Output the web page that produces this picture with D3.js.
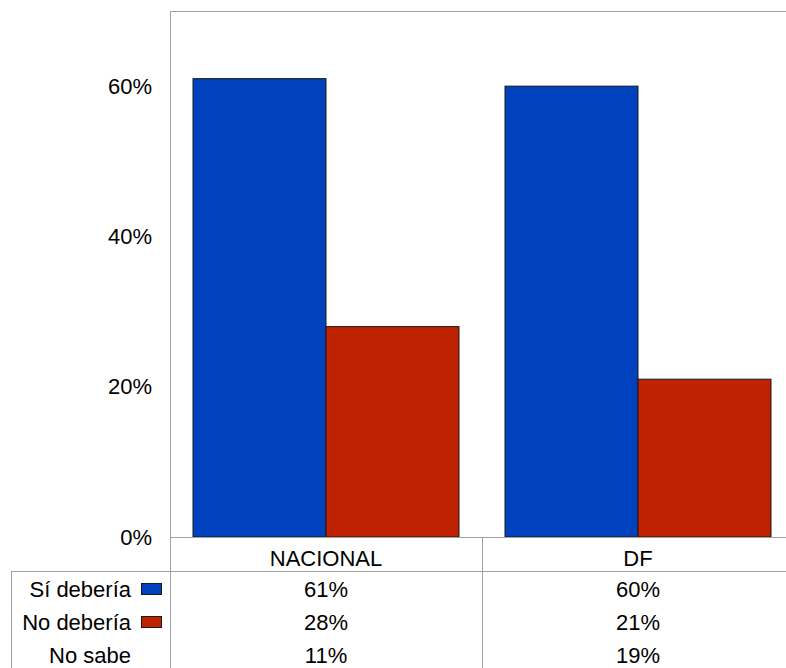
<!DOCTYPE html>
<html>
<head>
<meta charset="utf-8">
<script src="https://cdn.jsdelivr.net/npm/d3@7"></script>
<style>
  html, body { margin: 0; padding: 0; background: #fff; }
  svg { display: block; font-family: "Liberation Sans", Arial, sans-serif; }
</style>
</head>
<body>
<svg id="chart" width="786" height="668"></svg>
<script>
const categories = ["NACIONAL", "DF"];
const seriesNames = ["Sí debería", "No debería", "No sabe"];
const siDeberia = [61, 60];
const noDeberia = [28, 21];
const noSabe = [11, 19];
const yTicks = [0, 20, 40, 60];
const barSeries = [siDeberia, noDeberia];
const colors = ["#0041BE", "#BF2200"];

const svg = d3.select("#chart");
const plotLeft = 170, plotTop = 11, baseline = 537, plotRight = 794;
const fontSize = 22;
const gridColor = "#a0a0a0";

const x0 = d3.scaleBand().domain(categories).range([plotLeft, plotRight]).padding(0);
const x1 = d3.scaleBand().domain([0, 1]).range([0, x0.bandwidth()]).paddingInner(0).paddingOuter(0.173);
const y = d3.scaleLinear().domain([0, 70]).range([baseline, plotTop]);

// frame
svg.append("line").attr("x1", plotLeft + 0.5).attr("x2", plotLeft + 0.5).attr("y1", plotTop).attr("y2", 668)
  .attr("stroke", gridColor).attr("stroke-width", 1);
svg.append("line").attr("x1", plotLeft).attr("x2", 786).attr("y1", plotTop + 0.5).attr("y2", plotTop + 0.5)
  .attr("stroke", gridColor).attr("stroke-width", 1);

// bars
categories.forEach((c, ci) => {
  barSeries.forEach((s, si) => {
    svg.append("rect")
      .attr("x", x0(c) + x1(si))
      .attr("y", y(s[ci]))
      .attr("width", x1.bandwidth())
      .attr("height", baseline - y(s[ci]))
      .attr("fill", colors[si])
      .attr("stroke", "#1a1a1a")
      .attr("stroke-width", 1);
  });
});

// baseline
svg.append("line").attr("x1", plotLeft).attr("x2", 786).attr("y1", baseline + 0.5).attr("y2", baseline + 0.5)
  .attr("stroke", gridColor).attr("stroke-width", 1);

// y axis labels
const yAxis = d3.axisLeft(y).tickValues(yTicks).tickSize(0).tickPadding(0).tickFormat(d => d + "%");
const gy = svg.append("g").attr("transform", `translate(152,0)`).call(yAxis);
gy.select(".domain").remove();
gy.selectAll("text").attr("font-size", fontSize).attr("font-family", "Liberation Sans, Arial, sans-serif").attr("fill", "#000");

// table
const tableTop = 571;
const rowH = 33;
svg.append("line").attr("x1", 11).attr("x2", 786).attr("y1", tableTop + 0.5).attr("y2", tableTop + 0.5)
  .attr("stroke", gridColor).attr("stroke-width", 1);
svg.append("line").attr("x1", 11.5).attr("x2", 11.5).attr("y1", tableTop).attr("y2", 668)
  .attr("stroke", gridColor).attr("stroke-width", 1);
svg.append("line").attr("x1", x0(categories[1]) + 0.5).attr("x2", x0(categories[1]) + 0.5).attr("y1", baseline).attr("y2", 668)
  .attr("stroke", gridColor).attr("stroke-width", 1);

// category labels
categories.forEach(c => {
  svg.append("text").attr("x", x0(c) + x0.bandwidth() / 2).attr("y", 558).attr("dy", "0.35em")
    .attr("text-anchor", "middle").attr("font-size", fontSize).text(c);
});

const allSeries = [siDeberia, noDeberia, noSabe];
seriesNames.forEach((name, i) => {
  const cy = 589 + i * rowH;
  svg.append("text").attr("x", 131).attr("y", cy).attr("dy", "0.35em")
    .attr("text-anchor", "end").attr("font-size", fontSize).text(name);
  if (i < 2) {
    svg.append("rect").attr("x", 141.5).attr("y", cy - 5.5).attr("width", 20).attr("height", 11)
      .attr("fill", colors[i]).attr("stroke", "#1a1a1a").attr("stroke-width", 1);
  }
  categories.forEach((c, ci) => {
    svg.append("text").attr("x", x0(c) + x0.bandwidth() / 2).attr("y", cy).attr("dy", "0.35em")
      .attr("text-anchor", "middle").attr("font-size", fontSize).text(allSeries[i][ci] + "%");
  });
});
</script>
</body>
</html>
